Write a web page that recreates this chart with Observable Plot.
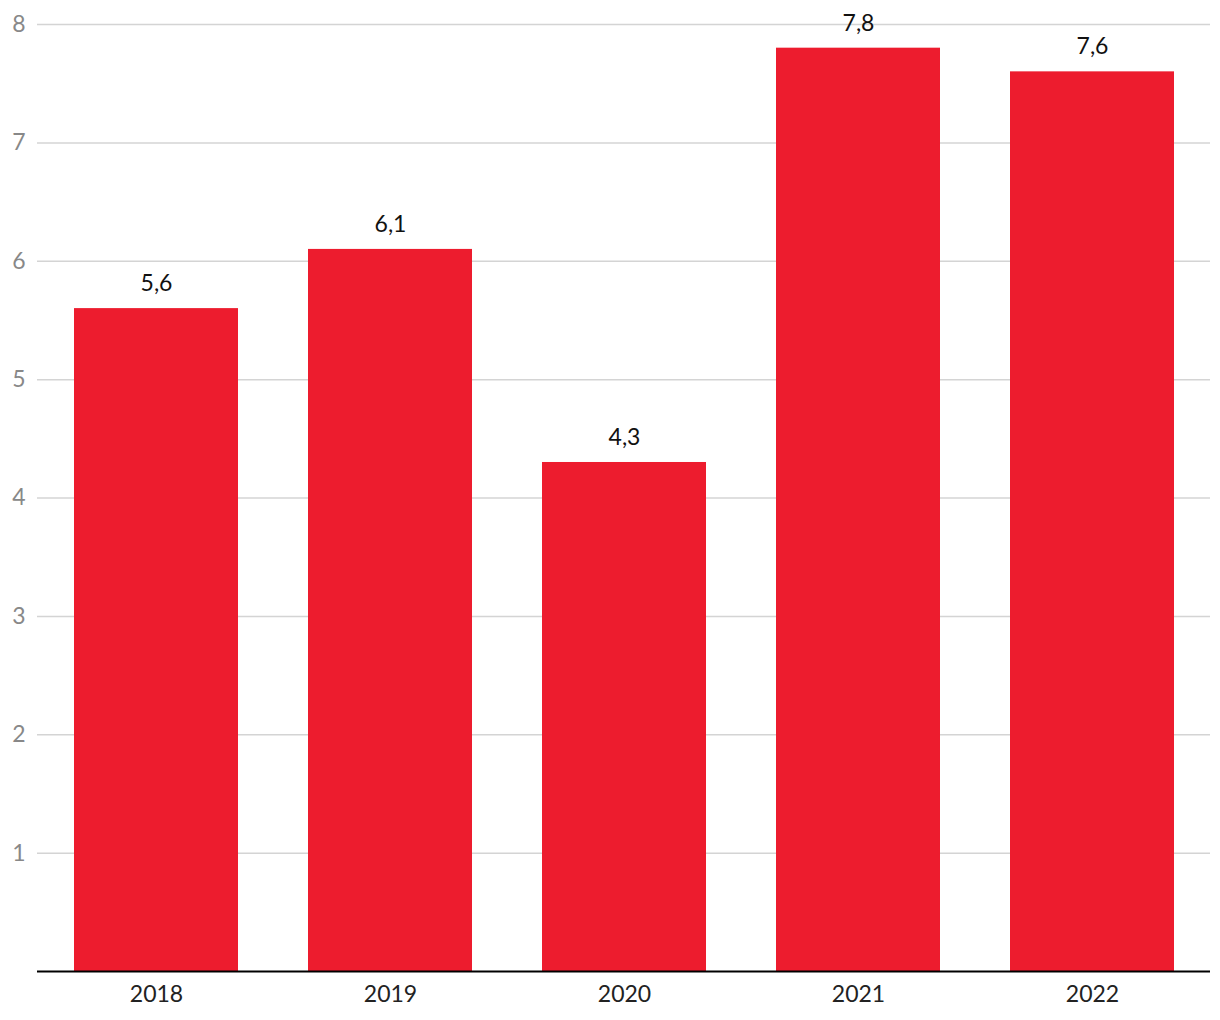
<!DOCTYPE html>
<html><head><meta charset="utf-8">
<script src="https://cdn.jsdelivr.net/npm/d3@7"></script>
<script src="https://cdn.jsdelivr.net/npm/@observablehq/plot@0.6"></script>
<style>
html,body{margin:0;padding:0;background:#fff;}
#chart svg{display:block;}
</style></head>
<body><div id="chart"></div>
<script>
const years = ["2018","2019","2020","2021","2022"];
const values = [5.6, 6.1, 4.3, 7.8, 7.6];
const yTicks = [1,2,3,4,5,6,7,8];
const data = years.map((y,i)=>({year:y, value:values[i]}));
const fmt = v => v.toFixed(1).replace(".", ",");

const chart = Plot.plot({
  width: 1220, height: 1020,
  marginLeft: 37, marginRight: 10, marginTop: 24, marginBottom: 49,
  style: {fontFamily: "Lato, sans-serif", fontSize: "23px", background: "#fff", overflow: "visible"},
  x: {domain: years, paddingInner: 0.3, paddingOuter: 0.15, label: null},
  y: {domain: [0, 8], label: null},
  marks: [
    Plot.gridY(yTicks, {stroke: "#d4d4d4", strokeOpacity: 1, strokeWidth: 1.5}),
    Plot.barY(data, {x: "year", y: "value", fill: "#ED1C2E"}),
    Plot.text(data, {x: "year", y: "value", text: d => fmt(d.value), dy: -25, fill: "#111", fontSize: 23}),
    Plot.ruleY([0], {stroke: "#000", strokeWidth: 2}),
    Plot.axisY(yTicks, {tickSize: 0, tickPadding: 12, fill: "#888", fontSize: 23, tickFormat: d => String(d), label: null}),
    Plot.axisX({tickSize: 0, tickPadding: 14, fill: "#222", fontSize: 23, label: null})
  ]
});
document.getElementById("chart").appendChild(chart);
</script></body></html>
